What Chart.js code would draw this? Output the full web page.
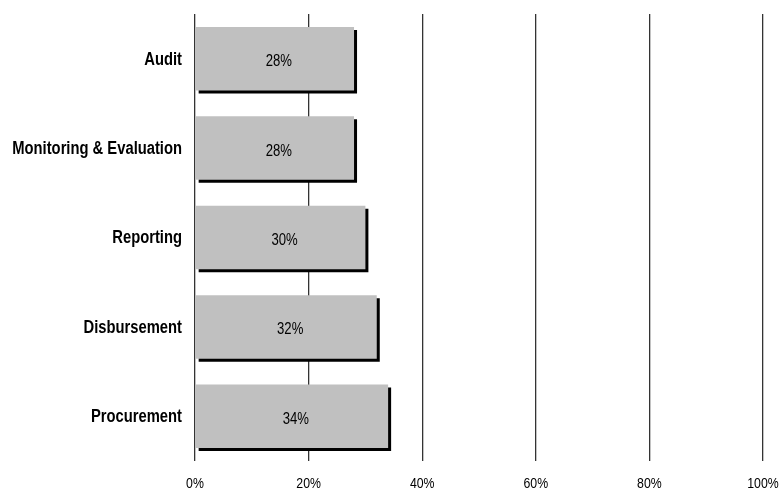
<!DOCTYPE html>
<html>
<head>
<meta charset="utf-8">
<script src="https://cdn.jsdelivr.net/npm/chart.js@4"></script>
<style>
  html, body { margin: 0; padding: 0; background: #fff; }
</style>
</head>
<body>
<canvas id="chart" width="780" height="491"></canvas>
<script>
const categories = ['Audit', 'Monitoring & Evaluation', 'Reporting', 'Disbursement', 'Procurement'];
const values = [28, 28, 30, 32, 34];
const xTicks = [0, 20, 40, 60, 80, 100];

const FONT = '"Liberation Sans", Arial, sans-serif';
const NARROW = 0.82; // squeeze text to look like Arial Narrow

function narrowText(ctx, text, x, y, align) {
  ctx.save();
  ctx.translate(x, y);
  ctx.scale(NARROW, 1);
  ctx.textAlign = align;
  ctx.fillText(text, 0, 0);
  ctx.restore();
}

// hard black drop shadow under each bar
const barShadow = {
  id: 'barShadow',
  beforeDatasetDraw(chart) {
    const ctx = chart.ctx;
    ctx.save();
    ctx.shadowColor = '#000';
    ctx.shadowOffsetX = 3;
    ctx.shadowOffsetY = 3;
    ctx.shadowBlur = 0;
  },
  afterDatasetDraw(chart) {
    chart.ctx.restore();
  },
};

// axis labels and value labels, drawn condensed
const labels = {
  id: 'labels',
  afterDatasetsDraw(chart) {
    const ctx = chart.ctx;
    const { x: xs, y: ys } = chart.scales;
    ctx.save();
    ctx.fillStyle = '#000';
    ctx.textBaseline = 'middle';

    ctx.font = 'bold 18px ' + FONT;
    categories.forEach((c, i) => {
      narrowText(ctx, c, xs.left - 13, ys.getPixelForTick(i) + 1, 'right');
    });

    ctx.font = '15px ' + FONT;
    xTicks.forEach((v) => {
      narrowText(ctx, v + '%', xs.getPixelForValue(v), 484, 'center');
    });

    ctx.font = '16px ' + FONT;
    chart.getDatasetMeta(0).data.forEach((bar, i) => {
      narrowText(ctx, values[i] + '%', (bar.base + bar.x) / 2 + 4, bar.y + 3, 'center');
    });
    ctx.restore();
  },
};

new Chart(document.getElementById('chart'), {
  type: 'bar',
  data: {
    labels: categories,
    datasets: [{
      data: values,
      backgroundColor: '#c0c0c0',
      borderWidth: 0,
      barPercentage: 0.71,
      categoryPercentage: 1,
    }],
  },
  options: {
    indexAxis: 'y',
    responsive: false,
    animation: false,
    devicePixelRatio: 1,
    layout: { padding: { top: 14, right: 17, left: 0, bottom: 0 } },
    plugins: { legend: { display: false }, tooltip: { enabled: false } },
    scales: {
      x: {
        min: 0,
        max: 100,
        afterBuildTicks: (s) => { s.ticks = xTicks.map((v) => ({ value: v })); },
        afterFit: (s) => { s.height = 30; },
        grid: { color: '#333', lineWidth: 1.3, drawTicks: false },
        border: { display: false },
        ticks: { display: false },
      },
      y: {
        afterFit: (s) => { s.width = 195; },
        grid: { display: false, drawTicks: false },
        border: { display: false },
        ticks: { display: false },
      },
    },
  },
  plugins: [barShadow, labels],
});
</script>
</body>
</html>
